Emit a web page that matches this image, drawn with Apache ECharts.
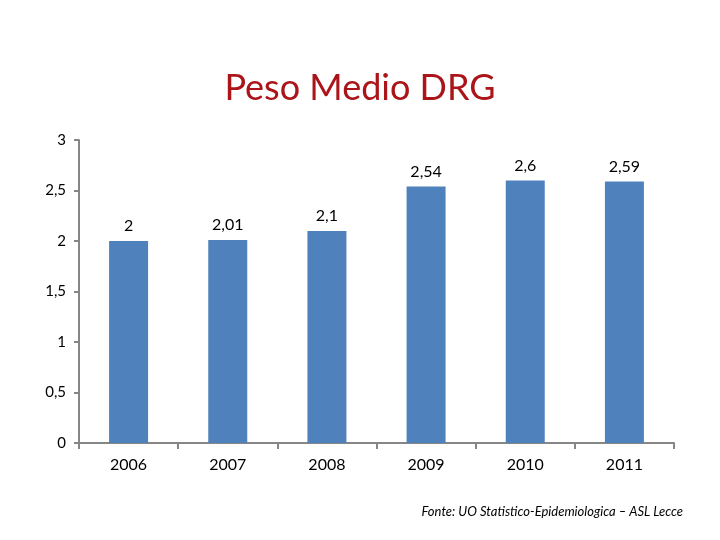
<!DOCTYPE html>
<html>
<head>
<meta charset="utf-8">
<script src="https://cdn.jsdelivr.net/npm/echarts@6/dist/echarts.min.js"></script>
<style>
  html, body { margin: 0; padding: 0; background: #fff; }
  #chart { width: 720px; height: 540px; }
</style>
</head>
<body>
<div id="chart"></div>
<script>
// dati
var years = ['2006', '2007', '2008', '2009', '2010', '2011']
var pesoMedio = [2, 2.01, 2.1, 2.54, 2.6, 2.59]
var yTicks = [0, 0.5, 1, 1.5, 2, 2.5, 3]

var FONT = 'Lato, "Liberation Sans", sans-serif'

function virgola(v) {
  return String(v).replace('.', ',')
}

var chart = echarts.init(document.getElementById('chart'))
chart.setOption({
  animation: false,
  textStyle: { fontFamily: FONT },
  title: {
    text: 'Peso Medio DRG',
    left: 'center',
    top: 65,
    textStyle: {
      color: '#ab1519',
      fontSize: 36,
      fontWeight: 'normal',
      fontFamily: FONT
    }
  },
  graphic: [{
    type: 'text',
    right: 37,
    top: 505,
    style: {
      text: 'Fonte: UO Statistico-Epidemiologica – ASL Lecce',
      font: 'italic 13px ' + FONT,
      fill: '#000'
    }
  }],
  grid: {
    left: 79,
    right: 46,
    top: 140,
    bottom: 97
  },
  xAxis: {
    type: 'category',
    data: years,
    axisLine: { lineStyle: { color: '#868686', width: 2 } },
    axisTick: { show: true, alignWithLabel: false, length: 6, lineStyle: { color: '#868686', width: 2 } },
    axisLabel: { color: '#000', fontSize: 16, margin: 14, fontFamily: FONT }
  },
  yAxis: {
    type: 'value',
    min: yTicks[0],
    max: yTicks[yTicks.length - 1],
    interval: 0.5,
    splitLine: { show: false },
    axisLine: { show: true, lineStyle: { color: '#868686', width: 2 } },
    axisTick: { show: true, length: 5, lineStyle: { color: '#868686', width: 2 } },
    axisLabel: {
      color: '#000',
      fontSize: 15,
      margin: 13,
      fontFamily: FONT,
      formatter: function (v) { return virgola(v) }
    }
  },
  series: [{
    name: 'Peso medio',
    type: 'bar',
    data: pesoMedio,
    barWidth: 39,
    itemStyle: { color: '#4f81bd' },
    label: {
      show: true,
      position: 'top',
      distance: 7,
      color: '#000',
      fontSize: 16,
      fontFamily: FONT,
      formatter: function (p) { return virgola(p.value) }
    }
  }]
})
</script>
</body>
</html>
